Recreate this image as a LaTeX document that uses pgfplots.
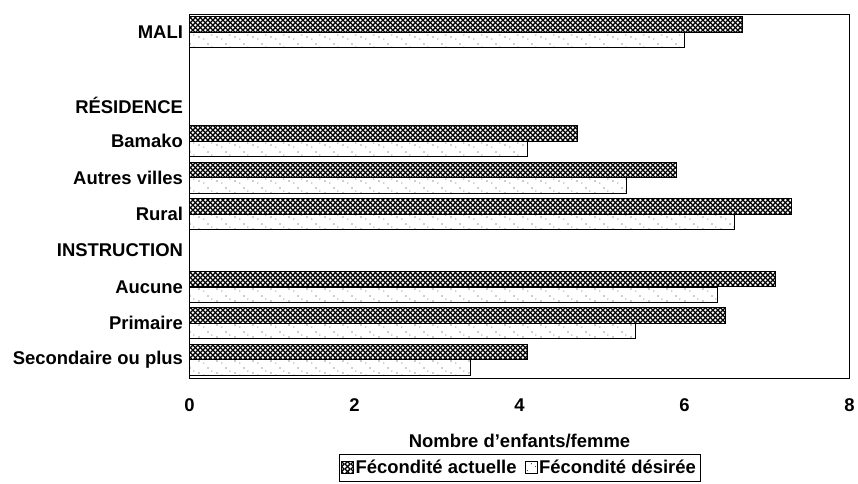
\documentclass[border=0pt]{standalone}
\usepackage{fontspec}
\setmainfont{Liberation Sans}
\usepackage{pgfplots}
\pgfplotsset{compat=1.18}
\usetikzlibrary{patterns,patterns.meta}
\newcommand{\fs}{\fontsize{18.5}{21}\selectfont\bfseries}

\tikzdeclarepattern{
  name=mesh,
  type=uncolored,
  bounding box={(0pt,0pt) and (5.4pt,5.4pt)},
  tile size={(5.4pt,5.4pt)},
  code={
    \draw[line width=1.4pt] (-1pt,-1pt) -- (6.4pt,6.4pt);
    \draw[line width=1.4pt] (-1pt,6.4pt) -- (6.4pt,-1pt);
  }
}
\tikzdeclarepattern{
  name=sparsedots,
  type=uncolored,
  bounding box={(0pt,0pt) and (18pt,12pt)},
  tile size={(18pt,12pt)},
  code={
    \fill (2pt,3pt) circle (0.6pt);
    \fill (11pt,8pt) circle (0.6pt);
    \fill (7pt,1pt) circle (0.5pt);
    \fill (15pt,5pt) circle (0.5pt);
  }
}

\begin{document}
\begin{tikzpicture}
\begin{axis}[
  scale only axis, width=662pt, height=365pt,
  xbar=0pt, bar width=15.5pt,
  xmin=0, xmax=8, xtick={0,2,4,6,8},
  ymin=-0.5, ymax=9.5, y dir=reverse,
  ytick={0,...,9},
  yticklabels={MALI,{},RÉSIDENCE,Bamako,Autres villes,Rural,INSTRUCTION,Aucune,Primaire,Secondaire ou plus},
  major tick length=0pt,
  axis line style={line width=0.8pt},
  /pgf/number format/assume math mode=true,
  tick label style={font=\fs},
  xticklabel style={yshift=-17pt},
  yticklabel style={xshift=-3pt},
  xlabel={Nombre d'enfants/femme},
  xlabel style={font=\fs, at={(axis description cs:0.5,-0.1726)}, anchor=center},
  legend columns=2,
  legend image code/.code={\draw[#1, line width=0.6pt] (0pt,-6pt) rectangle (12pt,6pt);},
  legend style={font=\fs, at={(axis description cs:0.5,-0.208)}, anchor=north,
    draw=black, line width=0.6pt, inner xsep=2pt, inner ysep=4pt,
    /tikz/every even column/.append style={column sep=6pt}},
]
\addplot[draw=black, line width=1.1pt, pattern=mesh, bar shift=7.75pt]
  coordinates {(6.7,0) (4.7,3) (5.9,4) (7.3,5) (7.1,7) (6.5,8) (4.1,9)};
\addplot[draw=black, line width=0.6pt, pattern=sparsedots, pattern color=black!85, bar shift=-7.75pt]
  coordinates {(6.0,0) (4.1,3) (5.3,4) (6.6,5) (6.4,7) (5.4,8) (3.4,9)};
\legend{Fécondité actuelle, Fécondité désirée}
\end{axis}
\path (current axis.south west) +(-190pt,-106pt) coordinate (bbA);
\path (current axis.north east) +(6pt,14pt) coordinate (bbB);
\path (bbA) rectangle (bbB);
\end{tikzpicture}
\end{document}
